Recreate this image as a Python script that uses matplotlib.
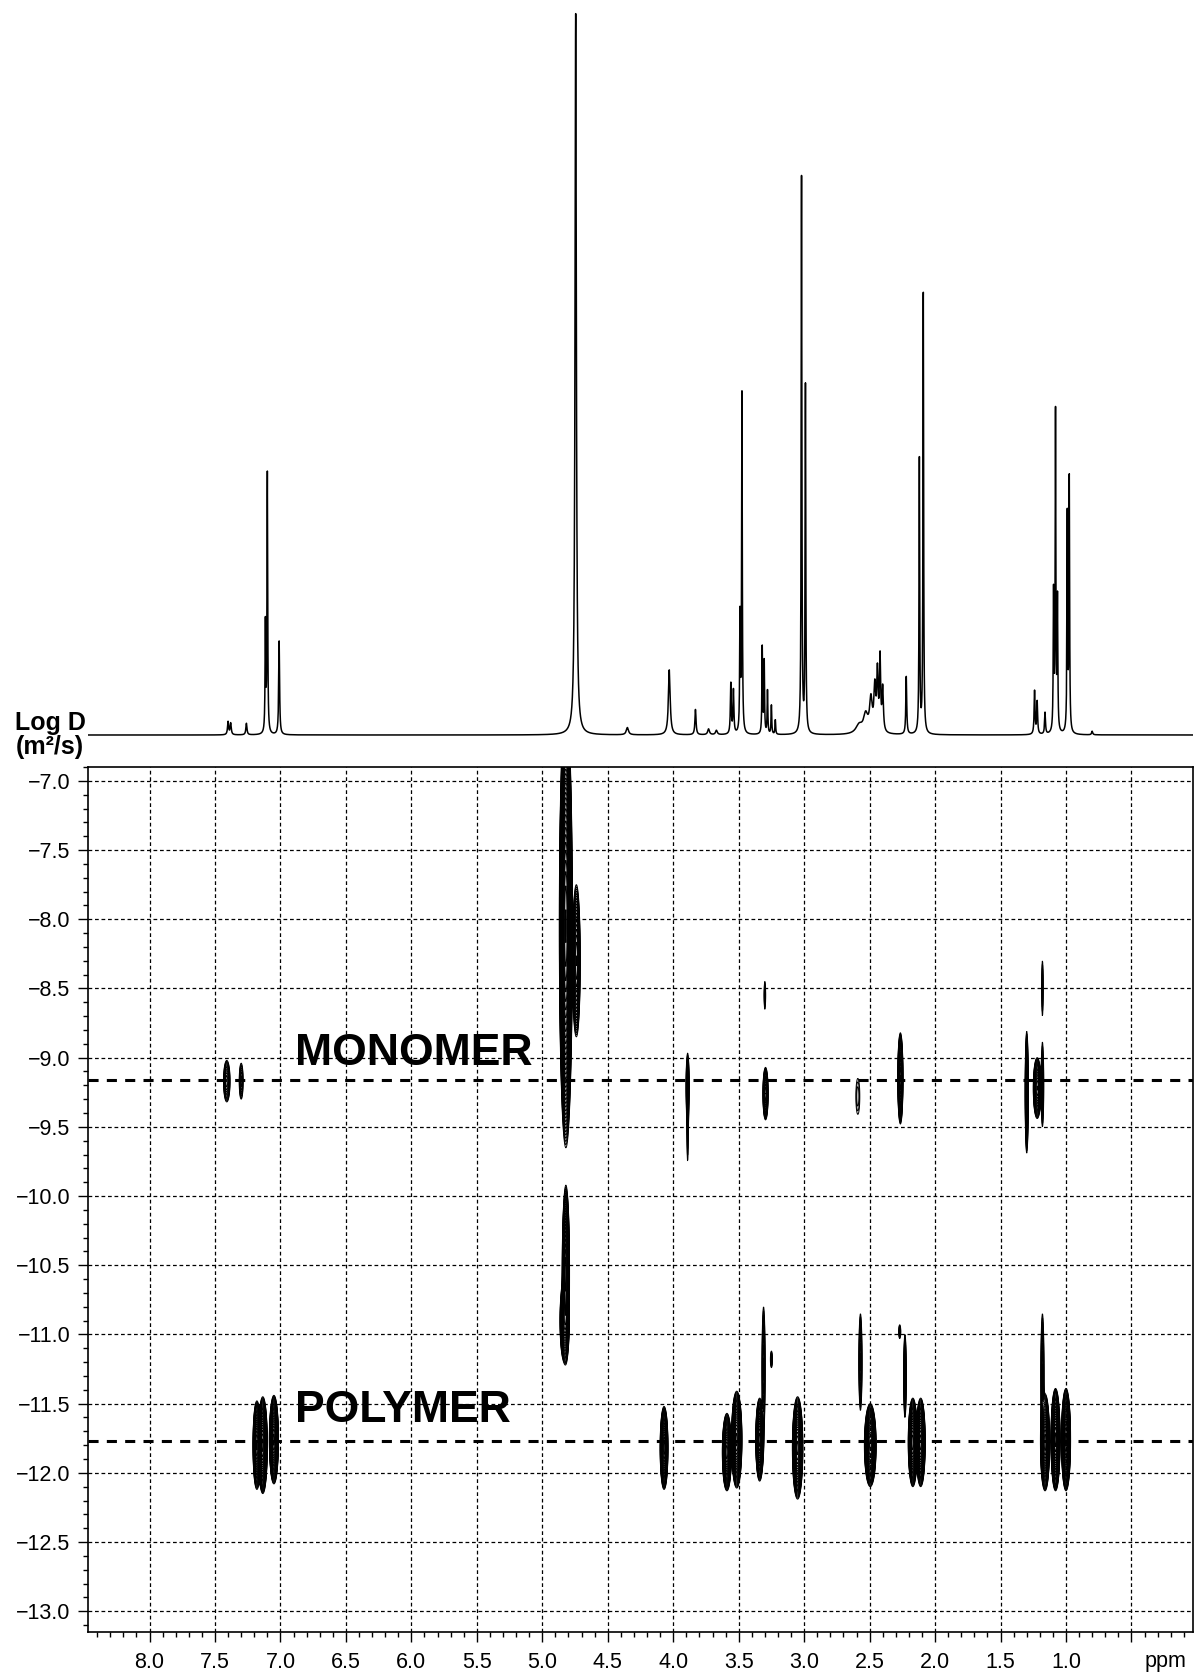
import numpy as np
import matplotlib
matplotlib.use("Agg")
from matplotlib import pyplot as plt
from matplotlib.ticker import MultipleLocator, FixedLocator

plt.rcParams['font.family'] = ['Liberation Sans', 'DejaVu Sans']

# 1D proton spectrum: peak positions (ppm), heights (relative), half widths (ppm)
peak_ppm = [7.40, 7.38, 7.26, 7.115, 7.10, 7.01, 4.745, 4.35, 4.03, 3.83, 3.73, 3.67,
            3.56, 3.54, 3.49, 3.475, 3.32, 3.305, 3.28, 3.25, 3.22, 3.02, 2.99,
            2.58, 2.53, 2.49, 2.46, 2.44, 2.42, 2.40, 2.22, 2.12, 2.09,
            1.24, 1.22, 1.16, 1.095, 1.08, 1.065, 0.99, 0.975, 0.80]
peak_h = [0.018, 0.016, 0.016, 0.15, 0.36, 0.13, 1.0, 0.01, 0.09, 0.035, 0.008, 0.006,
          0.07, 0.06, 0.16, 0.47, 0.12, 0.10, 0.06, 0.04, 0.02, 0.77, 0.48,
          0.012, 0.025, 0.045, 0.06, 0.08, 0.10, 0.06, 0.08, 0.38, 0.61,
          0.06, 0.045, 0.03, 0.19, 0.44, 0.18, 0.30, 0.35, 0.005]
peak_w = [0.005, 0.005, 0.005, 0.003, 0.003, 0.004, 0.006, 0.01, 0.008, 0.005, 0.008, 0.008,
          0.004, 0.004, 0.003, 0.003, 0.003, 0.003, 0.003, 0.003, 0.003, 0.003, 0.003,
          0.03, 0.02, 0.012, 0.008, 0.006, 0.005, 0.006, 0.004, 0.003, 0.003,
          0.004, 0.004, 0.004, 0.003, 0.003, 0.003, 0.003, 0.003, 0.005]

# DOSY cross peaks: centre ppm, centre log D, half width (ppm), half height (log D), strength
blob_ppm = [7.18, 7.135, 7.05, 4.07, 3.59, 3.515, 3.34, 3.31, 3.25, 3.05,
            2.495, 2.57, 2.27, 2.17, 2.11, 2.23, 1.16, 1.08, 1.00, 1.18,
            7.41, 7.30, 3.89, 3.89, 3.295, 3.30, 2.59, 2.265, 1.30, 1.22, 1.18, 1.18,
            4.82, 4.74, 4.82, 4.83]
blob_logd = [-11.80, -11.80, -11.76, -11.82, -11.85, -11.76, -11.76, -11.25, -11.18, -11.82,
             -11.80, -11.20, -10.98, -11.78, -11.78, -11.30, -11.78, -11.76, -11.76, -11.30,
             -9.17, -9.17, -9.20, -9.45, -9.26, -8.55, -9.28, -9.15, -9.25, -9.22, -8.49, -9.20,
             -8.05, -8.30, -10.55, -10.90]
blob_hw = [0.03, 0.035, 0.035, 0.03, 0.035, 0.04, 0.03, 0.012, 0.008, 0.04,
           0.045, 0.012, 0.008, 0.035, 0.035, 0.010, 0.035, 0.035, 0.035, 0.012,
           0.025, 0.015, 0.012, 0.006, 0.02, 0.006, 0.015, 0.02, 0.012, 0.03, 0.006, 0.010,
           0.05, 0.03, 0.028, 0.035]
blob_hh = [0.32, 0.35, 0.32, 0.30, 0.28, 0.35, 0.30, 0.45, 0.06, 0.37,
           0.30, 0.35, 0.05, 0.32, 0.32, 0.30, 0.35, 0.37, 0.37, 0.45,
           0.15, 0.13, 0.20, 0.30, 0.19, 0.10, 0.13, 0.33, 0.44, 0.22, 0.19, 0.30,
           1.6, 0.55, 0.62, 0.30]
blob_amp = [40, 80, 80, 50, 60, 80, 50, 4, 2, 80,
            80, 4, 2, 60, 60, 4, 60, 80, 80, 4,
            6, 3, 3, 2, 12, 2, 1.6, 20, 8, 20, 2, 3,
            400, 20, 60, 30]

monomer_logd = -9.16
polymer_logd = -11.77

x_major = [8.0, 7.5, 7.0, 6.5, 6.0, 5.5, 5.0, 4.5, 4.0, 3.5, 3.0, 2.5, 2.0, 1.5, 1.0, 0.5]
x_labels = ['8.0', '7.5', '7.0', '6.5', '6.0', '5.5', '5.0', '4.5', '4.0', '3.5',
            '3.0', '2.5', '2.0', '1.5', '1.0', '']
y_major = [-7.0, -7.5, -8.0, -8.5, -9.0, -9.5, -10.0, -10.5, -11.0, -11.5, -12.0, -12.5, -13.0]

W, H = 1195, 1675
fig = plt.figure(figsize=(W / 100, H / 100), dpi=100)

left = 88 / W
width = (1193 - 88) / W
ax2 = fig.add_axes([left, (H - 1632) / H, width, (1632 - 767) / H])
ax1 = fig.add_axes([left, (H - 745) / H, width, 740 / H])

xmin, xmax = 8.47, 0.03
ymin, ymax = -13.15, -6.9

# 1D spectrum
x = np.linspace(xmax, xmin, 20000)
spec = np.zeros_like(x)
for p, h, w in zip(peak_ppm, peak_h, peak_w):
    spec += h / (1 + ((x - p) / w) ** 2)
ax1.plot(x, spec, color='black', lw=1.1)
ax1.set_xlim(xmin, xmax)
ax1.set_ylim(-10 / 722, 1 + 8 / 722)
ax1.axis('off')

# 2D DOSY contour
gx = np.linspace(xmax, xmin, 3000)
gy = np.linspace(ymin, ymax, 1000)
field = np.zeros((gy.size, gx.size))
for p, d, hw, hh, a in zip(blob_ppm, blob_logd, blob_hw, blob_hh, blob_amp):
    k = np.sqrt(2 * np.log(a))
    sx = hw / k
    sy = hh / k
    field += a * np.outer(np.exp(-0.5 * ((gy - d) / sy) ** 2),
                          np.exp(-0.5 * ((gx - p) / sx) ** 2))
levels = 1.0 * 1.18 ** np.arange(0, 40)
ax2.contour(gx, gy, field, levels=levels, colors='black', linewidths=0.7)

ax2.axhline(monomer_logd, color='black', lw=2.2, dashes=(3.3, 2.7))
ax2.axhline(polymer_logd, color='black', lw=2.2, dashes=(3.3, 2.7))

ax2.text(6.89, -9.05, 'MONOMER', ha='left', va='baseline', fontsize=32, fontweight='bold')
ax2.text(6.89, -11.63, 'POLYMER', ha='left', va='baseline', fontsize=32, fontweight='bold')

ax2.set_xlim(xmin, xmax)
ax2.set_ylim(ymin, ymax)
ax2.xaxis.set_major_locator(FixedLocator(x_major))
ax2.set_xticklabels(x_labels)
ax2.yaxis.set_major_locator(FixedLocator(y_major))
ax2.set_yticklabels([f'{v:.1f}'.replace('-', '\u2212') for v in y_major])
ax2.xaxis.set_minor_locator(MultipleLocator(0.1))
ax2.yaxis.set_minor_locator(MultipleLocator(0.1))
ax2.tick_params(which='major', direction='out', length=7.5, width=1.0, labelsize=15.5, pad=5)
ax2.tick_params(which='minor', direction='out', length=3.8, width=1.0)
ax2.tick_params(axis='x', which='major', pad=7)
ax2.grid(True, which='major', color='black', lw=0.9, linestyle=(0, (3, 2.2)))
for s in ax2.spines.values():
    s.set_linewidth(1.2)

fig.text(1166 / W, (H - 1667) / H, 'ppm', ha='center', va='baseline', fontsize=15.5)
fig.text(50 / W, (H - 735) / H, 'Log D\n(m²/s)', ha='center', va='center',
         fontsize=18, fontweight='bold', linespacing=1.0)

fig.savefig('out.png', dpi=100)
